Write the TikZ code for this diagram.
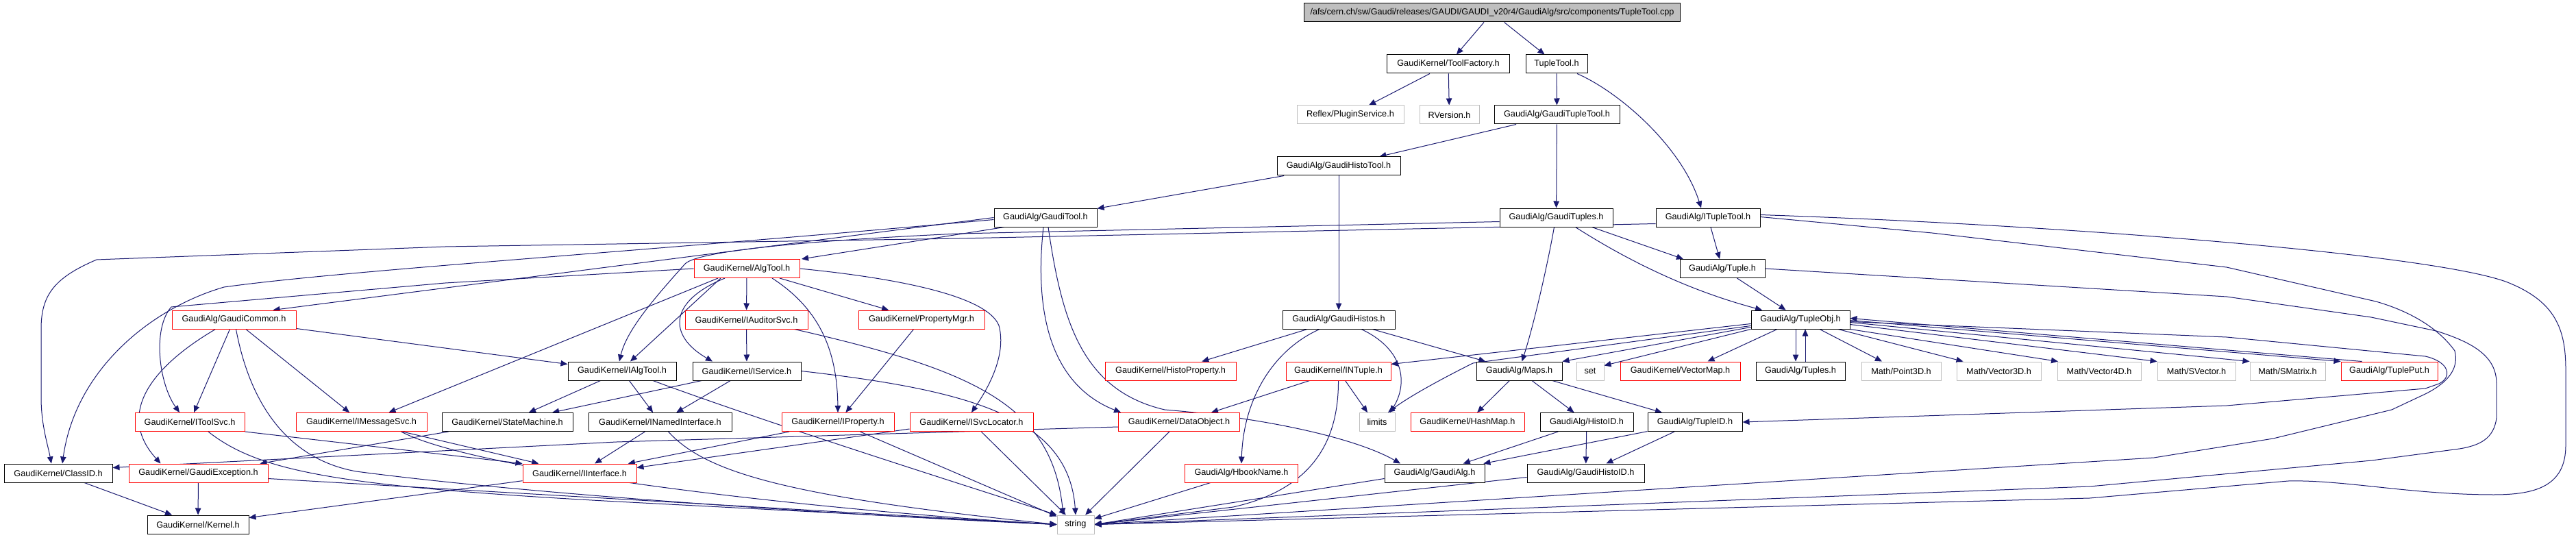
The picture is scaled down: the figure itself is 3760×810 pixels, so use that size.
\documentclass[tikz,border=0pt]{standalone}
\usepackage{fontspec}
\setmainfont{Liberation Sans}
\usetikzlibrary{arrows.meta}
\definecolor{edgec}{HTML}{191970}
\definecolor{greyc}{HTML}{BFBFBF}
\pgfdeclarelayer{background}
\pgfsetlayers{background,main}
\begin{document}
\begin{tikzpicture}[x=1pt,y=-1pt,
 box/.style={draw=black,line width=1pt,minimum height=27pt,inner xsep=3pt,inner ysep=0pt,font=\fontsize{12.7}{14}\selectfont,fill=white},
 rbox/.style={box,draw=red},
 gbox/.style={box,draw=greyc},
 e/.style={draw=edgec,line width=1pt,-{Triangle[length=10pt,width=8.5pt]}},
]
\useasboundingbox (0,0) rectangle (3760,810);
\node[box,fill=greyc,anchor=west,inner xsep=9pt] (root) at (1903,18.5) {/afs/cern.ch/sw/Gaudi/releases/GAUDI/GAUDI\_v20r4/GaudiAlg/src/components/TupleTool.cpp};
\node[box,minimum width=179pt] (toolfactory) at (2114,93.5) {GaudiKernel/ToolFactory.h};
\node[box,minimum width=90pt] (tupletool) at (2272,93.5) {TupleTool.h};
\node[gbox,minimum width=156pt] (reflex) at (1971,167.5) {Reflex/PluginService.h};
\node[gbox,minimum width=87pt] (rversion) at (2115.5,167.5) {RVersion.h};
\node[box,minimum width=183pt] (gtupletool) at (2272.5,167.5) {GaudiAlg/GaudiTupleTool.h};
\node[box,minimum width=180pt] (ghistotool) at (1954,242.5) {GaudiAlg/GaudiHistoTool.h};
\node[box,minimum width=150pt] (gtool) at (1526,317.5) {GaudiAlg/GaudiTool.h};
\node[box,minimum width=165pt] (gtuples) at (2271.5,317.5) {GaudiAlg/GaudiTuples.h};
\node[box,minimum width=152pt] (ituple) at (2493,317.5) {GaudiAlg/ITupleTool.h};
\node[rbox,minimum width=154pt] (algtool) at (1090,392) {GaudiKernel/AlgTool.h};
\node[box,minimum width=124pt] (tuple) at (2514,392) {GaudiAlg/Tuple.h};
\node[rbox,minimum width=181pt] (gcommon) at (341.5,466.5) {GaudiAlg/GaudiCommon.h};
\node[rbox,minimum width=179pt] (iauditor) at (1089.5,466.5) {GaudiKernel/IAuditorSvc.h};
\node[rbox,minimum width=184pt] (propmgr) at (1345,466.5) {GaudiKernel/PropertyMgr.h};
\node[box,minimum width=164pt] (ghistos) at (1954,466.5) {GaudiAlg/GaudiHistos.h};
\node[box,minimum width=144pt] (tupleobj) at (2628,466.5) {GaudiAlg/TupleObj.h};
\node[box,minimum width=158pt] (ialgtool) at (908,541.5) {GaudiKernel/IAlgTool.h};
\node[box,minimum width=158pt] (iservice) at (1090,541.5) {GaudiKernel/IService.h};
\node[rbox,minimum width=191pt] (histoprop) at (1708.5,541.5) {GaudiKernel/HistoProperty.h};
\node[rbox,minimum width=153pt] (ntuple) at (1953.5,541.5) {GaudiKernel/INTuple.h};
\node[box,minimum width=125pt] (maps) at (2217.5,541.5) {GaudiAlg/Maps.h};
\node[gbox,minimum width=40pt] (set) at (2321,541.5) {set};
\node[rbox,minimum width=175pt] (vectormap) at (2452.5,541.5) {GaudiKernel/VectorMap.h};
\node[box,minimum width=130pt] (tuples) at (2628,541.5) {GaudiAlg/Tuples.h};
\node[gbox,minimum width=116pt] (point3d) at (2775,541.5) {Math/Point3D.h};
\node[gbox,minimum width=123pt] (vector3d) at (2917.5,541.5) {Math/Vector3D.h};
\node[gbox,minimum width=122pt] (vector4d) at (3064,541.5) {Math/Vector4D.h};
\node[gbox,minimum width=114pt] (svector) at (3206,541.5) {Math/SVector.h};
\node[gbox,minimum width=110pt] (smatrix) at (3339,541.5) {Math/SMatrix.h};
\node[rbox,minimum width=141pt] (tupleput) at (3487.5,541.5) {GaudiAlg/TuplePut.h};
\node[rbox,minimum width=160pt] (itoolsvc) at (277,616) {GaudiKernel/IToolSvc.h};
\node[rbox,minimum width=191pt] (imsgsvc) at (527.5,616) {GaudiKernel/IMessageSvc.h};
\node[box,minimum width=191pt] (statemachine) at (740.5,616) {GaudiKernel/StateMachine.h};
\node[box,minimum width=209pt] (inamed) at (963.5,616) {GaudiKernel/INamedInterface.h};
\node[rbox,minimum width=164pt] (iproperty) at (1223,616) {GaudiKernel/IProperty.h};
\node[rbox,minimum width=180pt] (isvcloc) at (1418,616) {GaudiKernel/ISvcLocator.h};
\node[rbox,minimum width=177pt] (dataobject) at (1721,616) {GaudiKernel/DataObject.h};
\node[gbox,minimum width=52pt] (limits) at (2010,616) {limits};
\node[rbox,minimum width=166pt] (hashmap) at (2142,616) {GaudiKernel/HashMap.h};
\node[box,minimum width=136pt] (histoid) at (2316,616) {GaudiAlg/HistoID.h};
\node[box,minimum width=138pt] (tupleid) at (2474,616) {GaudiAlg/TupleID.h};
\node[box,minimum width=158pt] (classid) at (85,690.5) {GaudiKernel/ClassID.h};
\node[rbox,minimum width=203pt] (gexception) at (289.5,690.5) {GaudiKernel/GaudiException.h};
\node[rbox,minimum width=166pt] (iinterface) at (846,690.5) {GaudiKernel/IInterface.h};
\node[rbox,minimum width=165pt] (hbook) at (1812,690.5) {GaudiAlg/HbookName.h};
\node[box,minimum width=146pt] (gaudialg) at (2094,690.5) {GaudiAlg/GaudiAlg.h};
\node[box,minimum width=171pt] (ghistoid) at (2314.5,690.5) {GaudiAlg/GaudiHistoID.h};
\node[box,minimum width=148pt] (kernel) at (289,765.5) {GaudiKernel/Kernel.h};
\node[gbox,minimum width=54pt] (string) at (1570,765.5) {string};

\begin{pgfonlayer}{background}
\fill[white] (0,0) rectangle (3760,810);
\draw[e] (root) -- (toolfactory);
\draw[e] (root) -- (tupletool);
\draw[e] (toolfactory) -- (reflex);
\draw[e] (toolfactory) -- (rversion);
\draw[e] (tupletool) -- (gtupletool);
\draw[e] ([xshift=30pt]tupletool.south) .. controls (2365,135) and (2455,215) .. ([xshift=-10pt]ituple.north);
\draw[e] (gtupletool) -- (ghistotool);
\draw[e] (gtupletool) -- (gtuples);
\draw[e] (ghistotool) -- (gtool);
\draw[e] (ghistotool) -- (ghistos);
\draw[e] ([xshift=-60pt]gtool.south) -- ([xshift=80pt]algtool.north);
\draw[e] (gtool.west) -- ([xshift=57pt]gcommon.north);
\draw[e] ([yshift=-3pt]gtool.west) .. controls (900,370) and (500,395) .. (327,419) .. controls (220,450) and (110,540) .. ([xshift=6pt]classid.north);
\draw[e] ([yshift=-9pt]ituple.west) -- (1400,348) -- (650,360) -- (141,379) .. controls (80,405) and (60,430) .. (60,480) -- (60,580) .. controls (60,620) and (70,650) .. ([xshift=-10pt]classid.north);
\draw[e] ([yshift=-6pt]gtuples.west) -- (1400,341) .. controls (1200,350) and (1020,365) .. (1000,385) .. controls (960,430) and (915,480) .. ([xshift=-4pt]ialgtool.north);
\draw[e] (algtool.west) -- (650,413) -- (250,448) .. controls (222,480) and (232,560) .. ([xshift=-15pt]itoolsvc.north);
\draw[e] (gcommon) -- (itoolsvc);
\draw[e] (gcommon) -- (imsgsvc);
\draw[e] ([xshift=-27pt]gcommon.south) .. controls (230,530) and (165,600) .. ([xshift=-55pt]gexception.north);
\draw[e] ([xshift=3pt]gcommon.south) .. controls (365,590) and (420,670) .. (520,688) .. controls (800,725) and (1300,755) .. (string.west);
\draw[e] ([yshift=-13pt]gcommon.east) -- ([yshift=10pt]ialgtool.west);
\draw[e] ([xshift=-42pt]algtool.south) -- ([xshift=40pt]imsgsvc.north);
\draw[e] ([xshift=-38pt]algtool.south) -- ([xshift=12pt]ialgtool.north);
\draw[e] ([xshift=-32pt]algtool.south) .. controls (975,440) and (975,490) .. ([xshift=-50pt]iservice.north);
\draw[e] (algtool) -- (iauditor);
\draw[e] ([xshift=37pt]algtool.south) .. controls (1195,450) and (1222,510) .. (iproperty.north);
\draw[e] (algtool) -- (propmgr);
\draw[e] (algtool.east) .. controls (1300,405) and (1440,430) .. (1458,475) .. controls (1470,520) and (1440,570) .. (isvcloc.north);
\draw[e] (iauditor) -- (iservice);
\draw[e] ([xshift=70pt]iauditor.south) .. controls (1420,540) and (1535,590) .. ([xshift=-18pt]string.north);
\draw[e] (iservice.east) .. controls (1420,570) and (1560,610) .. (string.north);
\draw[e] (propmgr) -- (iproperty);
\draw[e] (ialgtool) -- (statemachine);
\draw[e] (ialgtool) -- (inamed);
\draw[e] ([xshift=45pt]ialgtool.south) .. controls (1100,610) and (1350,690) .. (string.north west);
\draw[e] (iservice) -- (statemachine);
\draw[e] (iservice) -- (inamed);
\draw[e] ([xshift=-86pt]statemachine.south) -- ([xshift=90pt]gexception.north);
\draw[e] (inamed) -- (iinterface);
\draw[e] ([xshift=12pt]inamed.south) .. controls (1030,690) and (1150,725) .. (string.west);
\draw[e] (iproperty) -- (iinterface);
\draw[e] (iproperty) -- (string);
\draw[e] ([yshift=-10pt]isvcloc.west) -- ([yshift=8pt]iinterface.east);
\draw[e] (isvcloc) -- (string);
\draw[e] (imsgsvc) -- (iinterface);
\draw[e] ([xshift=58pt]imsgsvc.south) .. controls (700,690) and (1200,745) .. (string.west);
\draw[e] (itoolsvc.south east) -- (iinterface.north west);
\draw[e] ([xshift=27pt]itoolsvc.south) .. controls (380,690) and (500,710) .. (900,732) -- (string.west);
\draw[e] (gexception) -- (kernel);
\draw[e] ([yshift=-8pt]gexception.east) -- (string.west);
\draw[e] (classid) -- (kernel);
\draw[e] (iinterface) -- (kernel);
\draw[e] ([yshift=-7pt]dataobject.west) -- (900,645) -- ([yshift=8pt]classid.east);
\draw[e] (dataobject) -- (string);
\draw[e] ([xshift=-3pt]gtool.south) .. controls (1510,450) and (1530,560) .. ([xshift=-85pt]dataobject.north);
\draw[e] ([xshift=4pt]gtool.south) .. controls (1550,470) and (1580,570) .. (1700,598) .. controls (1850,610) and (1980,640) .. ([xshift=-50pt]gaudialg.north);
\draw[e] (ghistos) -- (histoprop);
\draw[e] ([xshift=-28pt]ghistos.south) .. controls (1860,510) and (1815,580) .. (hbook.north);
\draw[e] ([xshift=33pt]ghistos.south) .. controls (2050,510) and (2055,560) .. ([xshift=19pt]limits.north);
\draw[e] (ghistos) -- (maps);
\draw[e] ([xshift=-42pt]ntuple.south) -- ([xshift=47pt]dataobject.north);
\draw[e] ([xshift=10pt]ntuple.south) -- ([xshift=-14pt]limits.north);
\draw[e] (ntuple.south) .. controls (1954,650) and (1910,715) .. (1800,740) -- (string.east);
\draw[e] (maps) -- (hashmap);
\draw[e] (maps) -- (histoid);
\draw[e] (maps) -- (tupleid);
\draw[e] ([yshift=-6pt]tupleobj.west) -- ([yshift=10pt]ntuple.east);
\draw[e] ([yshift=-9pt]tupleobj.west) -- (2150,530) .. controls (2100,555) and (2055,580) .. ([xshift=16pt]limits.north);
\draw[e] ([yshift=-11pt]tupleobj.west) -- (maps.north east);
\draw[e] (tupleobj.south west) -- ([yshift=8pt]set.east);
\draw[e] ([xshift=-34pt]tupleobj.south) -- ([xshift=40pt]vectormap.north);
\draw[e] ([xshift=-7pt]tupleobj.south) -- ([xshift=-7pt]tuples.north);
\draw[e] ([xshift=7pt]tuples.north) -- ([xshift=7pt]tupleobj.south);
\draw[e] ([xshift=28pt]tupleobj.south) -- ([xshift=-28pt]point3d.north);
\draw[e] ([xshift=55pt]tupleobj.south) -- ([xshift=-52pt]vector3d.north);
\draw[e] (tupleobj.south east) -- ([xshift=-60pt]vector4d.north);
\draw[e] ([yshift=-7pt]tupleobj.east) -- (svector.north west);
\draw[e] ([yshift=-4pt]tupleobj.east) -- (smatrix.north west);
\draw[e] ([yshift=-1pt]tupleobj.east) -- (tupleput.north west);
\draw[e] ([xshift=-40pt]tupleput.north) -- ([yshift=2pt]tupleobj.east);
\draw[e] ([yshift=-3pt]tupleobj.east) -- (3250,492) -- (3540,520) .. controls (3575,528) and (3580,550) .. (3560,560) -- (3540,567) -- (3250,592) -- (tupleid.east);
\draw[e] ([yshift=4pt]ituple.east) .. controls (3000,328) and (3550,370) .. (3660,412) .. controls (3730,440) and (3745,480) .. (3745,540) -- (3745,650) .. controls (3745,710) and (3700,722) .. (3640,722) .. controls (3520,722) and (3420,700) .. (3340,702) -- (3050,727) -- (string.east);
\draw[e] ([yshift=1pt]ituple.east) -- (2820,340) -- (3250,390) -- (3468,440) .. controls (3520,455) and (3560,480) .. (3583,512) .. controls (3590,540) and (3570,560) .. (3540,575) -- (3491,598) -- (3318,640) -- (3144,668) -- (string.east);
\draw[e] (tuple.east) -- (3250,433) -- (3461,463) -- (3556,483) .. controls (3610,500) and (3644,520) .. (3644,560) -- (3644,610) .. controls (3640,640) and (3620,650) .. (3590,655) -- (3462,672) -- (3050,710) -- (string.east);
\draw[e] (tuple) -- (tupleobj);
\draw[e] ([xshift=52pt]gtuples.south) -- ([xshift=-57pt]tuple.north);
\draw[e] ([xshift=28pt]gtuples.south) .. controls (2360,370) and (2450,420) .. ([xshift=-56pt]tupleobj.north);
\draw[e] ([xshift=-3pt]gtuples.south) .. controls (2260,380) and (2240,470) .. ([xshift=4pt]maps.north);
\draw[e] (ituple) -- (tuple);
\draw[e] (histoid) -- (gaudialg);
\draw[e] (histoid) -- (ghistoid);
\draw[e] (tupleid) -- (gaudialg);
\draw[e] (tupleid) -- (ghistoid);
\draw[e] ([yshift=-8pt]gaudialg.west) -- (string.east);
\draw[e] ([yshift=-6pt]ghistoid.west) -- (string.east);
\draw[e] (hbook) -- (string);
\end{pgfonlayer}
\end{tikzpicture}
\end{document}
